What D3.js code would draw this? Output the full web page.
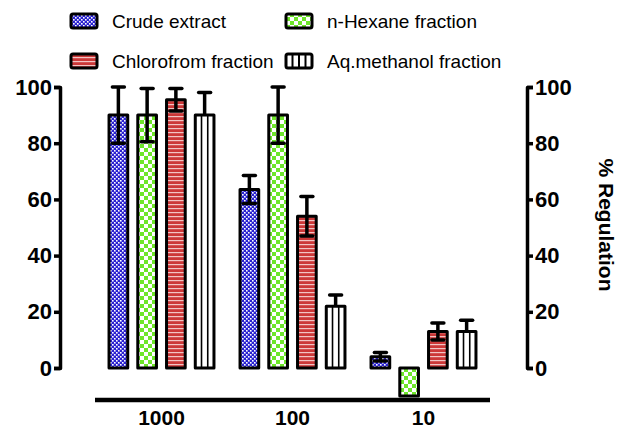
<!DOCTYPE html>
<html><head><meta charset="utf-8">
<script src="https://cdn.jsdelivr.net/npm/d3@7"></script>
<style>
html,body{margin:0;padding:0;background:#fff;}
text{font-family:Arial,"Liberation Sans",sans-serif;}
</style></head>
<body><svg id="c" width="620" height="430"></svg>
<script>
const categories = ["1000", "100", "10"];
const seriesNames = ["Crude extract", "n-Hexane fraction", "Chlorofrom fraction", "Aq.methanol fraction"];
const crudeVals = [90, 63.5, 4];
const crudeErr = [10, 5, 1.5];
const hexaneVals = [90, 90, -10];
const hexaneErr = [9.5, 10, 0];
const chloroVals = [95.5, 54, 13];
const chloroErr = [4, 7, 3];
const aqVals = [90, 22, 13];
const aqErr = [8, 4, 4];
const yTicks = [0, 20, 40, 60, 80, 100];

const seriesVals = [crudeVals, hexaneVals, chloroVals, aqVals];
const seriesErrs = [crudeErr, hexaneErr, chloroErr, aqErr];
const fills = ["url(#pBlue)", "url(#pGreen)", "url(#pRed)", "#fff"];

const svg = d3.select("#c");
const defs = svg.append("defs");
// blue fine checks
let p = defs.append("pattern").attr("id","pBlue").attr("patternUnits","userSpaceOnUse").attr("width",4).attr("height",4);
p.append("rect").attr("width",4).attr("height",4).attr("fill","#2a22d0");
p.append("rect").attr("x",0).attr("y",0).attr("width",1.6).attr("height",1.6).attr("fill","#fff");
p.append("rect").attr("x",2).attr("y",2).attr("width",1.6).attr("height",1.6).attr("fill","#fff");
// green checkerboard
p = defs.append("pattern").attr("id","pGreen").attr("patternUnits","userSpaceOnUse").attr("width",8).attr("height",8);
p.append("rect").attr("width",8).attr("height",8).attr("fill","#6ee62a");
p.append("rect").attr("x",0).attr("y",0).attr("width",4).attr("height",4).attr("fill","#fff");
p.append("rect").attr("x",4).attr("y",4).attr("width",4).attr("height",4).attr("fill","#fff");
// red stripes
p = defs.append("pattern").attr("id","pRed").attr("patternUnits","userSpaceOnUse").attr("width",4).attr("height",4);
p.append("rect").attr("width",4).attr("height",4).attr("fill","#cc3838");
p.append("rect").attr("x",0).attr("y",0).attr("width",4).attr("height",1.2).attr("fill","#f2c4c4");

const x0 = d3.scaleBand().domain(categories).range([96, 489]);
const x1 = d3.scaleBand().domain(seriesNames).range([-57.5, 57.5]).paddingInner(0.35).paddingOuter(0.175);
const y = d3.scaleLinear().domain([0, 100]).range([368, 87]);

const axisColor = "#000";
// left axis
const gl = svg.append("g").attr("transform","translate(60,0)")
  .call(d3.axisLeft(y).tickValues(yTicks).tickSize(6).tickPadding(2));
// right axis
const gr = svg.append("g").attr("transform","translate(527,0)")
  .call(d3.axisRight(y).tickValues(yTicks).tickSize(6).tickPadding(2));
[gl, gr].forEach(g => {
  g.selectAll("path,line").attr("stroke",axisColor).attr("stroke-width",3.5);
  g.select(".domain").attr("stroke-linejoin","round").attr("fill","none");
  g.selectAll("text").attr("font-size",22).attr("font-weight","bold").attr("fill","#000")
    .attr("font-family","Arial, 'Liberation Sans', sans-serif");
});

// x axis line
svg.append("line").attr("x1",95).attr("x2",490).attr("y1",400).attr("y2",400)
  .attr("stroke","#000").attr("stroke-width",4.5);
svg.selectAll("text.xl").data(categories).join("text").attr("class","xl")
  .attr("x", d => x0(d) + x0.bandwidth()/2).attr("y", 425)
  .attr("text-anchor","middle").attr("font-size",21).attr("font-weight","bold").text(d => d);

// bars
const bw = x1.bandwidth();
categories.forEach((c, ci) => {
  const cx = x0(c) + x0.bandwidth()/2;
  seriesNames.forEach((s, si) => {
    const v = seriesVals[si][ci], e = seriesErrs[si][ci];
    const bx = cx + x1(s);
    const top = y(Math.max(0, v)), bot = y(Math.min(0, v));
    svg.append("rect").attr("x", bx).attr("y", top).attr("width", bw).attr("height", bot - top)
      .attr("fill", fills[si]).attr("stroke","#000").attr("stroke-width",3).attr("stroke-linejoin","round");
    if (si === 3) {
      [1/3, 2/3].forEach(f => svg.append("line").attr("x1", bx + bw*f).attr("x2", bx + bw*f)
        .attr("y1", top).attr("y2", bot).attr("stroke","#000").attr("stroke-width",1.6));
    }
    if (e > 0) {
      const mx = bx + bw/2;
      const lo = si === 3 ? v : v - e;
      svg.append("line").attr("x1",mx).attr("x2",mx).attr("y1",y(v+e)).attr("y2",y(lo))
        .attr("stroke","#000").attr("stroke-width",3.5);
      const caps = si === 3 ? [v+e] : [v+e, v-e];
      caps.forEach(cv => svg.append("line").attr("x1",mx-6).attr("x2",mx+6).attr("y1",y(cv)).attr("y2",y(cv))
        .attr("stroke","#000").attr("stroke-width",3.5).attr("stroke-linecap","round"));
    }
  });
});

// legend
const legPos = [[71,21],[286,21],[71,61],[286,61]];
seriesNames.forEach((s, si) => {
  const [lx, ly] = legPos[si];
  const g = svg.append("g").attr("transform",`translate(${lx},${ly})`);
  g.append("rect").attr("x",0).attr("y",-7).attr("width",26).attr("height",14).attr("rx",2)
    .attr("fill",fills[si]).attr("stroke","#000").attr("stroke-width",3);
  if (si === 3) {
    [0.25,0.5,0.75].forEach(f => g.append("line").attr("x1",26*f).attr("x2",26*f).attr("y1",-7).attr("y2",7)
      .attr("stroke","#000").attr("stroke-width",2));
  }
  g.append("text").attr("x",41).attr("y",0).attr("dy","0.35em").attr("font-size",19).text(s);
});

// right axis title
svg.append("text").attr("transform","translate(599,225) rotate(90)")
  .attr("text-anchor","middle").attr("font-size",21).attr("font-weight","bold").text("% Regulation");
</script></body></html>
